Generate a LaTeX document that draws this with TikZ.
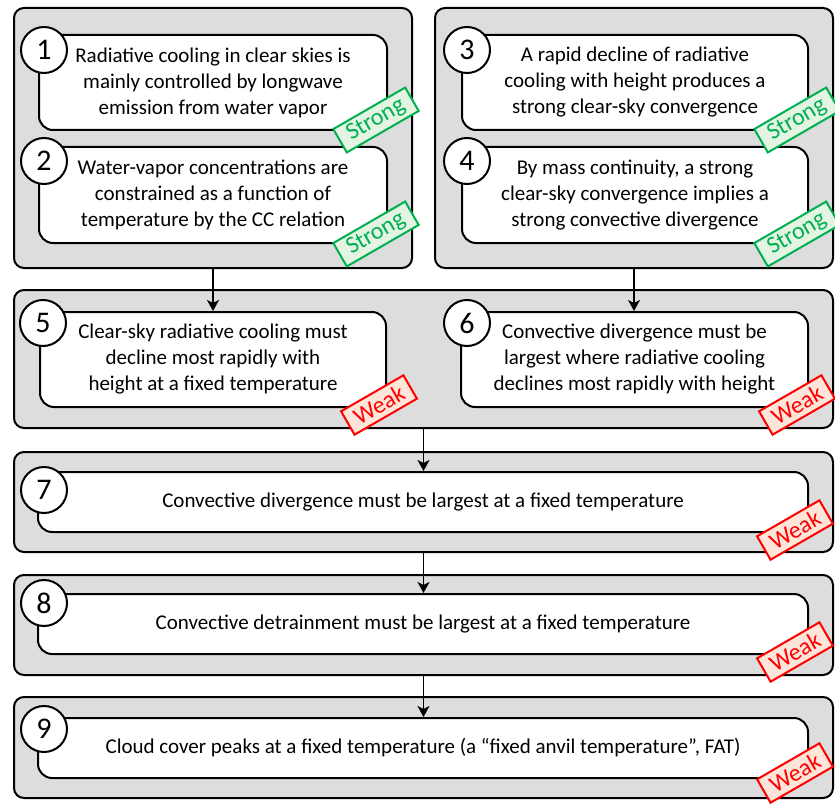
\documentclass[tikz,border=0pt]{standalone}
\usepackage{fontspec}
\setmainfont{Carlito}
\usetikzlibrary{arrows.meta}

\definecolor{grpgray}{HTML}{DDDDDD}
\definecolor{strongline}{HTML}{00B050}
\definecolor{strongfill}{HTML}{E3F4E3}
\definecolor{weakline}{HTML}{FF0000}
\definecolor{weakfill}{HTML}{FDE5DA}

\tikzset{
  grp/.style={draw, line width=2pt, fill=grpgray, rounded corners=10pt, inner sep=0pt},
  stmt/.style={draw, line width=2pt, fill=white, rounded corners=14pt, align=center, inner sep=0pt,
    font=\fontsize{21}{26}\selectfont},
  numcirc/.style={draw, circle, line width=2pt, fill=white, minimum size=46pt, inner sep=0pt,
    font=\fontsize{30}{32}\selectfont},
  tag/.style={draw, line width=2pt, rotate=30, minimum height=27pt, inner sep=0pt,
    font=\fontsize{24}{26}\selectfont},
  strongtag/.style={tag, draw=strongline, fill=strongfill, text=strongline, minimum width=83pt},
  weaktag/.style={tag, draw=weakline, fill=weakfill, text=weakline, minimum width=72pt},
  flow/.style={-{Stealth[length=11pt, width=12pt, inset=3pt]}, line width=1.6pt}
}

\begin{document}
\begin{tikzpicture}[x=1pt, y=-1pt]
\useasboundingbox (0,0) rectangle (835,805);

% group boxes
\node[grp, minimum width=398pt, minimum height=260pt] (g1) at (213,138) {};
\node[grp, minimum width=398pt, minimum height=260pt] (g2) at (634,138) {};
\node[grp, minimum width=819pt, minimum height=138pt] (g3) at (423.5,359) {};
\node[grp, minimum width=819pt, minimum height=100pt] (g4) at (423.5,502) {};
\node[grp, minimum width=819pt, minimum height=100pt] (g5) at (423.5,625) {};
\node[grp, minimum width=819pt, minimum height=101pt] (g6) at (423.5,747.5) {};

% statements
\node[stmt, minimum width=348pt, minimum height=95pt] (b1) at (213,82.5)
  {Radiative cooling in clear skies is\\mainly controlled by longwave\\emission from water vapor};
\node[stmt, minimum width=348pt, minimum height=96pt] (b2) at (213,195)
  {Water-vapor concentrations are\\constrained as a function of\\temperature by the CC relation};
\node[stmt, minimum width=346pt, minimum height=95pt] (b3) at (635,82.5)
  {A rapid decline of radiative\\cooling with height produces a\\strong clear-sky convergence};
\node[stmt, minimum width=346pt, minimum height=96pt] (b4) at (635,195)
  {By mass continuity, a strong\\clear-sky convergence implies a\\strong convective divergence};
\node[stmt, minimum width=346pt, minimum height=95pt] (b5) at (213,359.5)
  {Clear-sky radiative cooling must\\decline most rapidly with\\height at a fixed temperature};
\node[stmt, minimum width=347pt, minimum height=95pt] (b6) at (634.5,359.5)
  {Convective divergence must be\\largest where radiative cooling\\declines most rapidly with height};
\node[stmt, minimum width=770pt, minimum height=60pt] (b7) at (423,502)
  {Convective divergence must be largest at a fixed temperature};
\node[stmt, minimum width=770pt, minimum height=60pt] (b8) at (423,624)
  {Convective detrainment must be largest at a fixed temperature};
\node[stmt, minimum width=770pt, minimum height=60pt] (b9) at (423,748)
  {Cloud cover peaks at a fixed temperature (a “fixed anvil temperature”, FAT)};

% arrows
\draw[flow] (g1.south) -- (g1.south |- b5.north);
\draw[flow] (g2.south) -- (g2.south |- b6.north);
\draw[flow] (g3.south) -- (g3.south |- b7.north);
\draw[flow] (g4.south) -- (g4.south |- b8.north);
\draw[flow] (g5.south) -- (g5.south |- b9.north);

% numbers
\node[numcirc] (c1) at (44,50) {1};
\node[numcirc] (c2) at (44,161) {2};
\node[numcirc] (c3) at (467,50) {3};
\node[numcirc] (c4) at (467,161) {4};
\node[numcirc] (c5) at (43,323) {5};
\node[numcirc] (c6) at (467,323) {6};
\node[numcirc] (c7) at (44,490) {7};
\node[numcirc] (c8) at (44,603) {8};
\node[numcirc] (c9) at (44,729) {9};

% ratings
\node[strongtag] (s1) at (376,120) {Strong};
\node[strongtag] (s2) at (376,234) {Strong};
\node[strongtag] (s3) at (797,120) {Strong};
\node[strongtag] (s4) at (797,234) {Strong};
\node[weaktag] (w5) at (379,405) {Weak};
\node[weaktag] (w6) at (797,405) {Weak};
\node[weaktag] (w7) at (795,530) {Weak};
\node[weaktag] (w8) at (795,652) {Weak};
\node[weaktag] (w9) at (795,773) {Weak};
\end{tikzpicture}
\end{document}
